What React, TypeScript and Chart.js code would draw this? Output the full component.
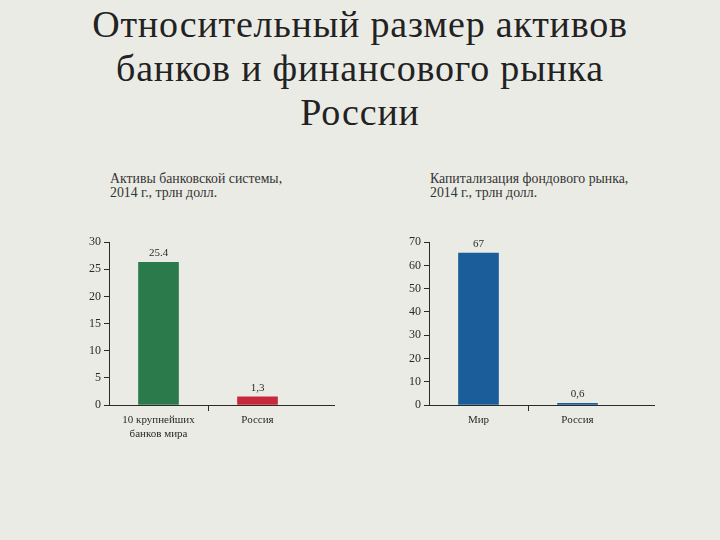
import React, { useEffect, useRef } from 'react';
import Chart from 'chart.js/auto';

// Активы банковской системы
const bankCategories = [['10 крупнейших', 'банков мира'], 'Россия'];
const bankValues = [26.3, 1.5];
const bankLabels = ['25.4', '1,3'];
const bankColors = ['#2b7a4b', '#c8283d'];
const bankTicks = { min: 0, max: 30, step: 5 };

// Капитализация фондового рынка
const marketCategories = ['Мир', 'Россия'];
const marketValues = [65.3, 0.7];
const marketLabels = ['67', '0,6'];
const marketColors = ['#1b5d9b', '#1b5d9b'];
const marketTicks = { min: 0, max: 70, step: 10 };

const SERIF = '"Liberation Serif", "DejaVu Serif", serif';
const INK = '#2a2a2a';

// value labels above bars + the axis line that runs past the last category
const extrasPlugin = {
  id: 'extras',
  afterDatasetsDraw(chart: any, _args: any, opts: any) {
    const { ctx, chartArea } = chart;
    ctx.save();
    ctx.strokeStyle = INK;
    ctx.lineWidth = 1;
    ctx.beginPath();
    ctx.moveTo(chartArea.right - 1, chartArea.bottom + 0.5);
    ctx.lineTo(chartArea.right + 28, chartArea.bottom + 0.5);
    ctx.stroke();

    ctx.fillStyle = INK;
    ctx.font = `11px ${SERIF}`;
    ctx.textAlign = 'center';
    ctx.textBaseline = 'alphabetic';
    const meta = chart.getDatasetMeta(0);
    meta.data.forEach((bar: any, i: number) => {
      ctx.fillText(opts.labels[i], bar.x, bar.y - 6);
    });
    ctx.restore();
  },
};

function BarPanel({ categories, values, labels, colors, ticks }: any) {
  const chartRef = useRef<HTMLCanvasElement | null>(null);

  useEffect(() => {
    if (!chartRef.current) return;
    const chart = new Chart(chartRef.current, {
      type: 'bar',
      data: {
        labels: categories,
        datasets: [{
          data: values,
          backgroundColor: colors,
          borderWidth: 0,
          barThickness: 40,
        }],
      },
      plugins: [extrasPlugin],
      options: {
        animation: false,
        responsive: false,
        devicePixelRatio: 1,
        layout: { padding: { top: 10, right: 53, bottom: 0, left: 0 } },
        plugins: {
          legend: { display: false },
          tooltip: { enabled: false },
          extras: { labels },
        } as any,
        scales: {
          x: {
            offset: true,
            afterFit: (s: any) => { s.height = 47; },
            border: { display: true, color: INK, width: 1 },
            grid: {
              offset: true,
              drawOnChartArea: false,
              drawTicks: true,
              tickLength: 6,
              tickColor: (c: any) => (c.index === 1 ? INK : 'rgba(0,0,0,0)'),
            },
            ticks: {
              color: INK,
              font: { family: SERIF, size: 11 },
              padding: 3,
              maxRotation: 0,
            },
          },
          y: {
            min: ticks.min,
            max: ticks.max,
            afterFit: (s: any) => { s.width = 49; },
            border: { display: true, color: INK, width: 1 },
            grid: {
              drawOnChartArea: false,
              drawTicks: true,
              tickLength: 5,
              tickColor: INK,
            },
            ticks: {
              stepSize: ticks.step,
              color: INK,
              font: { family: SERIF, size: 12 },
              padding: 3,
            },
          },
        },
      },
    } as any);
    return () => chart.destroy();
  }, []);

  return <canvas ref={chartRef} width={300} height={220} style={{ width: 300, height: 220 }} />;
}

export default function App() {
  const sub: React.CSSProperties = {
    position: 'absolute',
    top: 172,
    fontFamily: SERIF,
    fontSize: 13.8,
    lineHeight: '14px',
    color: '#333',
    whiteSpace: 'nowrap',
  };
  return (
    <div style={{ position: 'fixed', left: 0, top: 0, width: 720, height: 540, background: '#ebebe5', overflow: 'hidden' }}>
      <div style={{
        position: 'absolute', top: 2, left: 0, width: 720, textAlign: 'center',
        fontFamily: SERIF, fontSize: 38, lineHeight: '44px', color: '#222', letterSpacing: 0.8,
      }}>
        Относительный размер активов<br />банков и финансового рынка<br />России
      </div>

      <div style={{ ...sub, left: 110 }}>Активы банковской системы,<br />2014 г., трлн долл.</div>
      <div style={{ ...sub, left: 430 }}>Капитализация фондового рынка,<br />2014 г., трлн долл.</div>

      <div style={{ position: 'absolute', left: 60, top: 232 }}>
        <BarPanel categories={bankCategories} values={bankValues} labels={bankLabels} colors={bankColors} ticks={bankTicks} />
      </div>
      <div style={{ position: 'absolute', left: 380, top: 232 }}>
        <BarPanel categories={marketCategories} values={marketValues} labels={marketLabels} colors={marketColors} ticks={marketTicks} />
      </div>
    </div>
  );
}
